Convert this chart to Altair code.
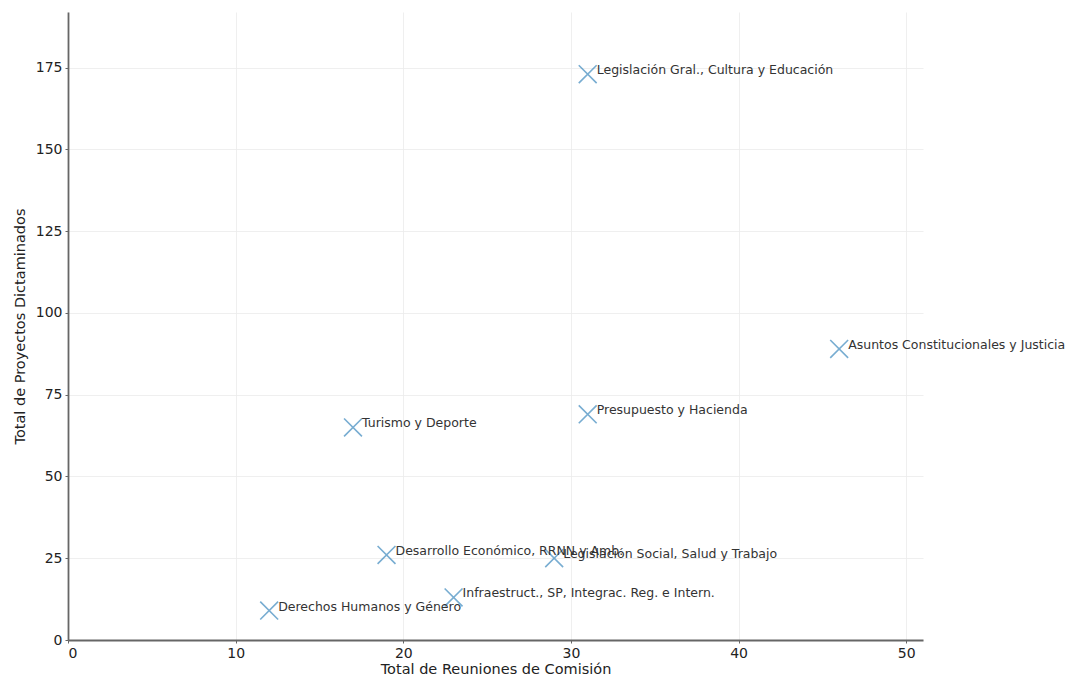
import altair as alt
import pandas as pd

comisiones = [
    "Legislación Gral., Cultura y Educación",
    "Asuntos Constitucionales y Justicia",
    "Presupuesto y Hacienda",
    "Turismo y Deporte",
    "Desarrollo Económico, RRNN y Amb.",
    "Legislación Social, Salud y Trabajo",
    "Infraestruct., SP, Integrac. Reg. e Intern.",
    "Derechos Humanos y Género",
]
reuniones = [31, 46, 31, 17, 19, 29, 23, 12]
proyectos = [173, 89, 69, 65, 26, 25, 13, 9]

df = pd.DataFrame({"comision": comisiones, "reuniones": reuniones, "proyectos": proyectos})

x = alt.X("reuniones:Q", title="Total de Reuniones de Comisión",
          scale=alt.Scale(domain=[0, 51], nice=False, zero=True),
          axis=alt.Axis(values=[0, 10, 20, 30, 40, 50]))
y = alt.Y("proyectos:Q", title="Total de Proyectos Dictaminados",
          scale=alt.Scale(domain=[0, 192], nice=False),
          axis=alt.Axis(values=[0, 25, 50, 75, 100, 125, 150, 175]))

points = alt.Chart(df).mark_point(
    shape="M-1,-1L1,1M1,-1L-1,1", filled=False, size=320,
    stroke="#1f77b4", strokeWidth=1.6, opacity=0.6,
).encode(x=x, y=y)

labels = alt.Chart(df).mark_text(
    align="left", baseline="middle", dx=9, dy=-4,
    font="DejaVu Sans", fontSize=12.5, color="#333333",
).encode(x=x, y=y, text="comision:N")

chart = (points + labels).properties(
    width=855, height=628,
    autosize=alt.AutoSizeParams(type="none"),
    padding={"left": 60, "top": 4, "right": 150, "bottom": 40},
).configure_view(stroke=None).configure_axis(
    labelFont="DejaVu Sans", titleFont="DejaVu Sans",
    labelFontSize=14, titleFontSize=14.5, titleFontWeight="normal",
    labelColor="#222222", titleColor="#222222",
    domainColor="#666666", domainWidth=1.8,
    tickColor="#666666", tickSize=3,
    gridColor="#ebebeb", gridWidth=0.8,
    labelPadding=3,
).configure_axisX(titlePadding=2).configure_axisY(titlePadding=8)

chart.save("out.html", embed_options={"renderer": "svg", "actions": False})
